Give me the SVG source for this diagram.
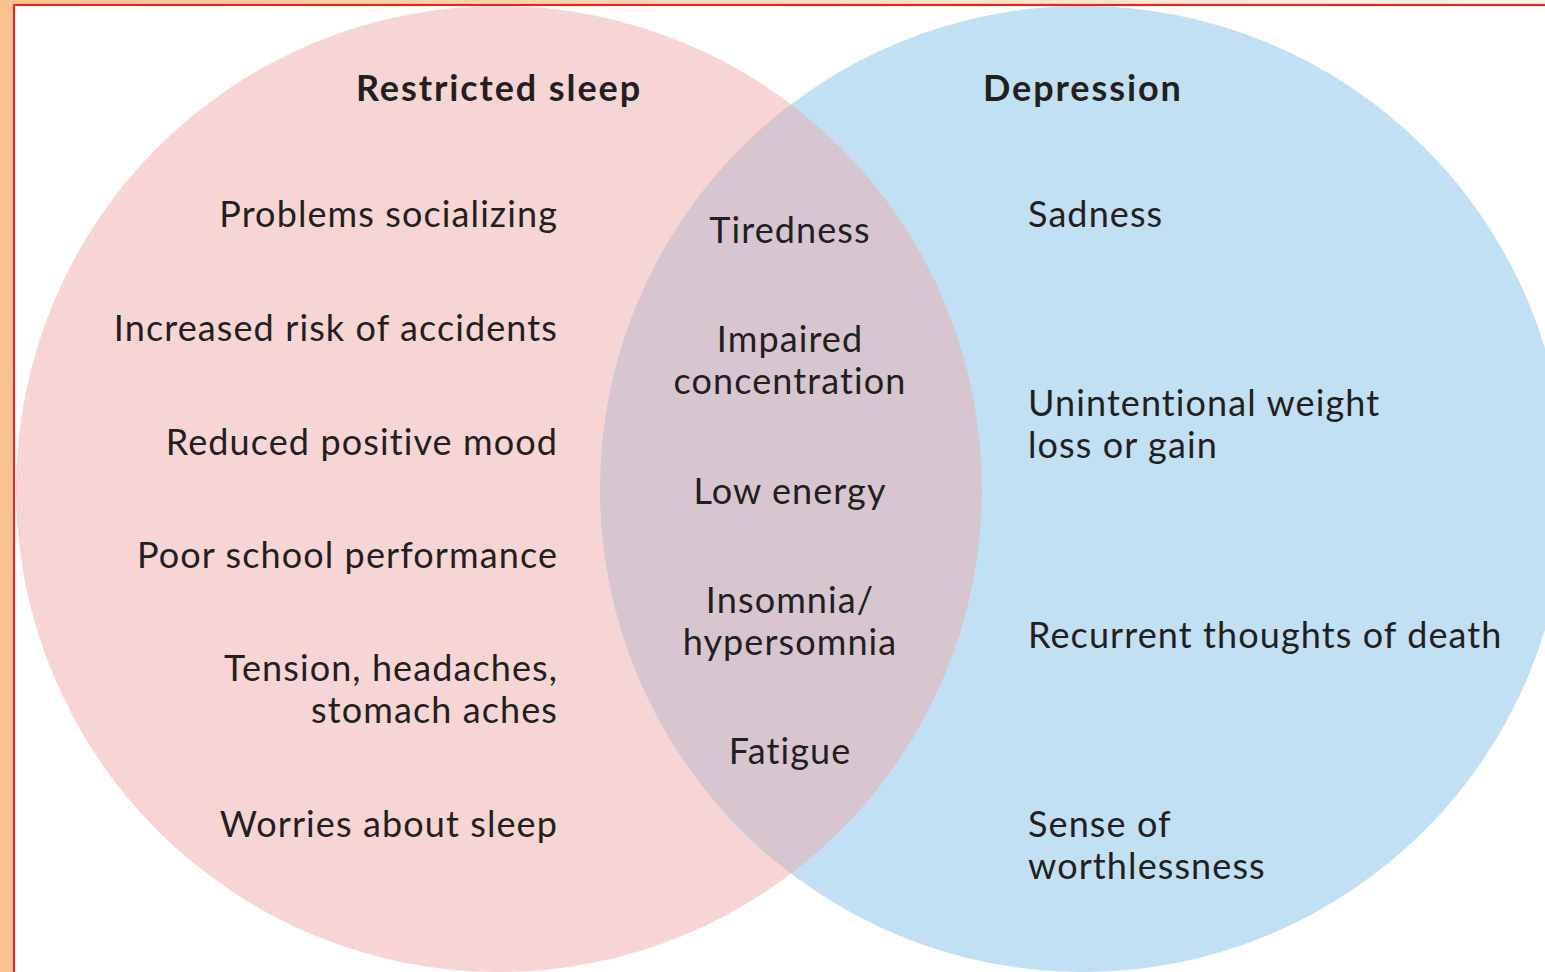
<svg xmlns="http://www.w3.org/2000/svg" width="1545" height="972" viewBox="0 0 1545 972">
  <defs>
    <linearGradient id="topg" x1="0" y1="0" x2="1" y2="0">
      <stop offset="0" stop-color="#FBC491"/>
      <stop offset="1" stop-color="#FEF0E4"/>
    </linearGradient>
    <clipPath id="leftClip"><circle cx="499" cy="489" r="483"/></clipPath>
  </defs>
  <style>
    .t { font-family: Lato, "Noto Sans", "Liberation Sans", sans-serif; font-size: 36px; fill: #231F20; letter-spacing: 1.1px; }
    .h { font-weight: bold; letter-spacing: 1.9px; }
    .r { text-anchor: end; }
    .m { text-anchor: middle; }
  </style>
  <rect x="0" y="0" width="1545" height="972" fill="#FFFFFF"/>
  <rect x="0" y="0" width="1545" height="5" fill="url(#topg)"/>
  <rect x="0" y="0" width="13" height="972" fill="#FBC491"/>
  <line x1="14" y1="5" x2="1545" y2="5" stroke="#FF1A1A" stroke-width="2"/>
  <line x1="14" y1="4" x2="14" y2="972" stroke="#FF1A1A" stroke-width="2"/>

  <g id="restricted-sleep">
    <circle cx="499" cy="489" r="483" fill="#F7D5D5"/>
  </g>
  <g id="depression">
    <circle cx="1083" cy="489" r="483" fill="#C2E0F4"/>
  </g>
  <g id="overlap">
    <circle cx="1083" cy="489" r="483" fill="#D7C6D0" clip-path="url(#leftClip)"/>
  </g>
  <g id="connectors"/>

  <g id="labels-left">
    <text class="t h m" x="499" y="101">Restricted sleep</text>
    <text class="t r" x="558" y="227">Problems socializing</text>
    <text class="t r" x="558" y="341">Increased risk of accidents</text>
    <text class="t r" x="558" y="455">Reduced positive mood</text>
    <text class="t r" x="558" y="568">Poor school performance</text>
    <text class="t r" x="558" y="681">Tension, headaches,</text>
    <text class="t r" x="558" y="723">stomach aches</text>
    <text class="t r" x="558" y="837">Worries about sleep</text>
  </g>
  <g id="labels-middle">
    <text class="t m" x="790" y="243">Tiredness</text>
    <text class="t m" x="790" y="352">Impaired</text>
    <text class="t m" x="790" y="394">concentration</text>
    <text class="t m" x="790" y="504">Low energy</text>
    <text class="t m" x="790" y="613">Insomnia/</text>
    <text class="t m" x="790" y="655">hypersomnia</text>
    <text class="t m" x="790" y="764">Fatigue</text>
  </g>
  <g id="labels-right">
    <text class="t h" x="983" y="101">Depression</text>
    <text class="t" x="1028" y="227">Sadness</text>
    <text class="t" x="1028" y="416">Unintentional weight</text>
    <text class="t" x="1028" y="458">loss or gain</text>
    <text class="t" x="1028" y="648">Recurrent thoughts of death</text>
    <text class="t" x="1028" y="837">Sense of</text>
    <text class="t" x="1028" y="879">worthlessness</text>
  </g>
</svg>
